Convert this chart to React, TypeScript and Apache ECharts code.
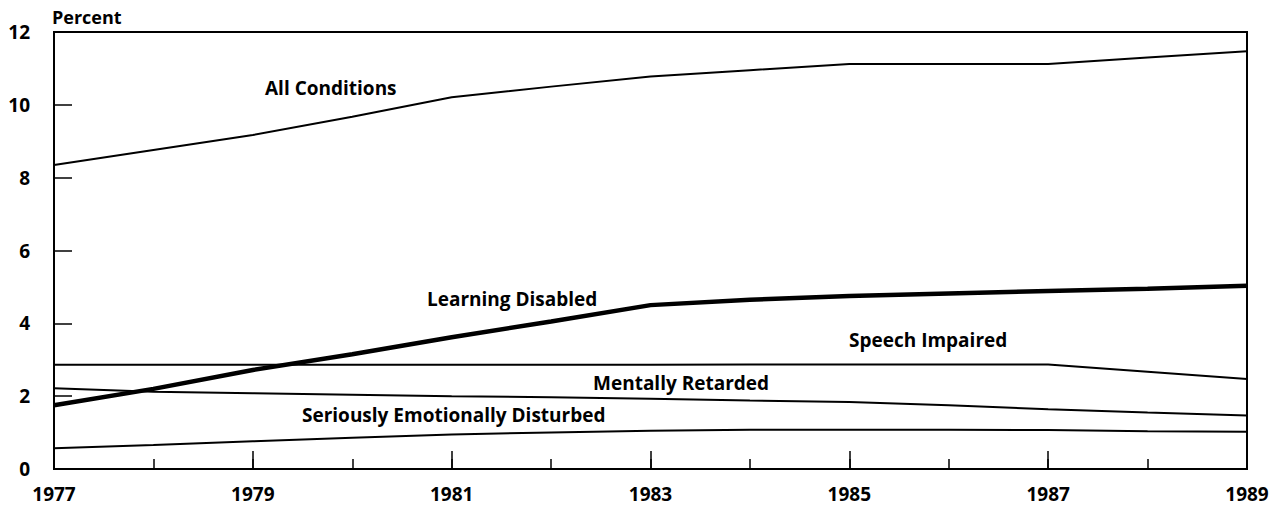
import React, { useEffect, useRef } from "react";
import * as echarts from "echarts";

const years = ["1977","1978","1979","1980","1981","1982","1983","1984","1985","1986","1987","1988","1989"];
const allConditions = [8.35, 8.76, 9.17, 9.67, 10.21, 10.5, 10.78, 10.95, 11.12, 11.12, 11.12, 11.3, 11.47];
const learningDisabled = [1.75, 2.2, 2.72, 3.15, 3.62, 4.05, 4.5, 4.65, 4.75, 4.82, 4.89, 4.95, 5.03];
const speechImpaired = [2.86, 2.86, 2.86, 2.86, 2.86, 2.86, 2.86, 2.87, 2.87, 2.87, 2.87, 2.67, 2.47];
const mentallyRetarded = [2.22, 2.12, 2.08, 2.04, 2.0, 1.97, 1.93, 1.88, 1.84, 1.75, 1.64, 1.55, 1.47];
const seriouslyEmotionallyDisturbed = [0.57, 0.66, 0.76, 0.86, 0.95, 1.0, 1.05, 1.08, 1.08, 1.08, 1.07, 1.04, 1.02];
const yTicks = { min: 0, max: 12, interval: 2 };

const seriesNames = ["All Conditions", "Learning Disabled", "Speech Impaired", "Mentally Retarded", "Seriously Emotionally Disturbed"];
const seriesData = [allConditions, learningDisabled, speechImpaired, mentallyRetarded, seriouslyEmotionallyDisturbed];
const seriesWidths = [2, 4.5, 2, 2, 2];

const labelPos: [string, number, number][] = [
  ["All Conditions", 265, 88],
  ["Learning Disabled", 427, 299],
  ["Speech Impaired", 849, 340],
  ["Mentally Retarded", 593, 383],
  ["Seriously Emotionally Disturbed", 302, 415],
];

const FONT = "'Open Sans', 'Noto Sans', sans-serif";

export default function App() {
  const ref = useRef<HTMLDivElement>(null);
  useEffect(() => {
    if (!ref.current) return;
    const chart = echarts.init(ref.current, undefined, { renderer: "svg" });
    const labelStyle = { color: "#000", fontSize: 19, fontWeight: "bold", fontFamily: FONT };
    chart.setOption({
      animation: false,
      backgroundColor: "#fff",
      grid: {
        left: 54, right: 39, top: 32, bottom: 39,
        show: true, borderColor: "#000", borderWidth: 2, backgroundColor: "transparent",
      },
      xAxis: [
        {
          type: "category", data: years, boundaryGap: false,
          axisLine: { show: true, lineStyle: { color: "#000", width: 2 } },
          axisTick: { show: true, inside: true, length: 10, interval: 0, lineStyle: { color: "#000", width: 1.5 } },
          axisLabel: { ...labelStyle, interval: 1, margin: 15 },
          splitLine: { show: false },
        },
        {
          type: "category", data: years, boundaryGap: false, position: "bottom",
          axisLine: { show: false },
          axisTick: { show: true, inside: true, length: 18, interval: 1, lineStyle: { color: "#000", width: 1.5 } },
          axisLabel: { show: false },
          splitLine: { show: false },
        },
      ],
      yAxis: {
        type: "value", min: yTicks.min, max: yTicks.max, interval: yTicks.interval,
        axisLine: { show: true, lineStyle: { color: "#000", width: 2 } },
        axisTick: { show: true, inside: true, length: 18, lineStyle: { color: "#000", width: 1.5 } },
        axisLabel: { ...labelStyle, margin: 24 },
        splitLine: { show: false },
      },
      series: seriesNames.map((name, i) => ({
        name, type: "line", xAxisIndex: 0, data: seriesData[i],
        symbol: "none", silent: true,
        lineStyle: { color: "#000", width: seriesWidths[i] },
      })),
      graphic: [
        { type: "text", left: 52, top: 8, style: { text: "Percent", fill: "#000", fontSize: 18, fontWeight: "bold", fontFamily: FONT } },
        ...labelPos.map(([t, x, y]) => ({
          type: "text", x, y,
          style: { text: t, fill: "#000", fontSize: 19, fontWeight: "bold", fontFamily: FONT, align: "left", verticalAlign: "middle" },
        })),
      ],
    });
    return () => chart.dispose();
  }, []);
  return <div ref={ref} style={{ position: "fixed", left: 0, top: 0, width: 1286, height: 508 }} />;
}
